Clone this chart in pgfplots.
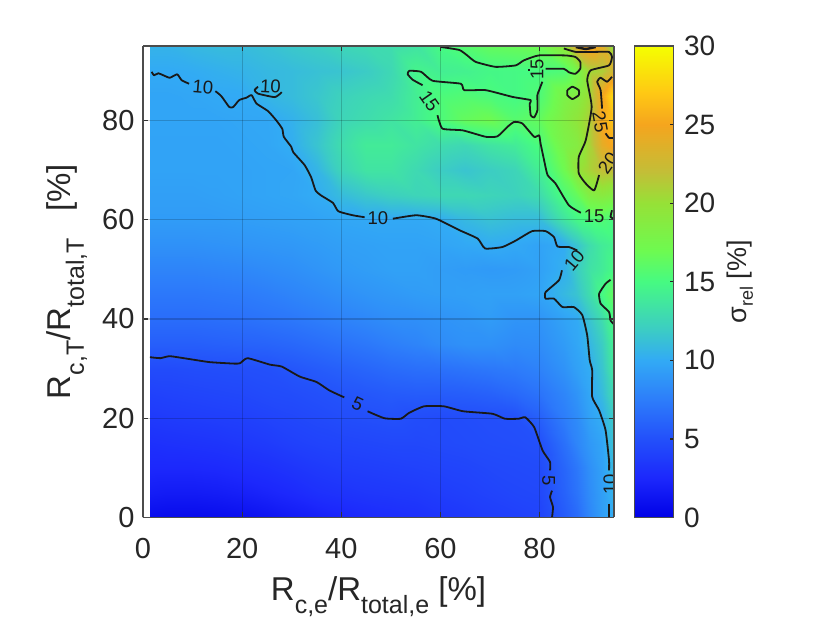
\documentclass[border=0pt]{standalone}
\usepackage{fontspec}
\setmainfont{Liberation Sans}
\usepackage{pgfplots}
\pgfplotsset{compat=1.18}
\definecolor{txt}{gray}{0.15}
\newcommand{\lab}{\fontsize{33}{33}\selectfont}
\newcommand{\labsub}[1]{\raisebox{-13pt}{\fontsize{25}{25}\selectfont #1}}
\newcommand{\clab}[4]{\node[rotate=#4,font=\fontsize{18.5}{18.5}\selectfont,text=black!90,inner sep=0pt] at (axis cs:#1,#2,0) {#3};}
\pgfplotsset{contour/.style={black!90,line width=1.8pt,no marks,line join=round,smooth,tension=0.3}}
\begin{document}
\begin{tikzpicture}
\begin{axis}[
    at={(143pt,105.5pt)},anchor=south west,
    scale only axis,width=471pt,height=471.5pt,
    view={0}{90},
    xmin=0,xmax=95,ymin=0,ymax=95,
    xtick={0,20,40,60,80},ytick={0,20,40,60,80},ztick=\empty,
    tick align=inside,major tick length=5pt,
    xtick pos=both,ytick pos=both,
    xticklabel pos=bottom,yticklabel pos=left,
    axis on top,
    grid=major,grid style={black,opacity=0.18,line width=1.2pt},
    axis line style={black!70,line width=1.2pt},
    tick style={black!80,line width=1.2pt},
    /pgf/number format/assume math mode=true,
    tick label style={font=\fontsize{29}{29}\selectfont,text=txt},
    xticklabel style={yshift=-17pt},
    yticklabel style={xshift=-5pt},
    every axis x label/.style={at={(axis description cs:0.5,-0.175)},anchor=base},
    every axis y label/.style={at={(axis description cs:-0.153,0.5)},rotate=90,anchor=base},
    xlabel={\lab R\labsub{c,e}/R\labsub{total,e} [\%]},
    ylabel={\lab R\labsub{c,T}/R\labsub{total,T}\hspace{17pt} [\%]},
    label style={text=txt},
    colormap={sr}{
        rgb255(0)=(0,0,230) rgb255(25)=(28,40,252) rgb255(50)=(35,80,250)
        rgb255(75)=(45,125,250) rgb255(100)=(50,170,245) rgb255(120)=(60,205,195)
        rgb255(150)=(70,250,130) rgb255(170)=(110,250,80) rgb255(200)=(150,225,55)
        rgb255(220)=(195,190,55) rgb255(250)=(245,165,30) rgb255(270)=(255,200,20)
        rgb255(300)=(245,255,0)},
    point meta min=0,point meta max=30,
    colorbar,
    colorbar/width=39pt,
    colorbar style={
        at={(parent axis.north east)},anchor=north west,xshift=12pt,
        ytick={0,5,10,15,20,25,30},
        ytick pos=right,yticklabel pos=right,
        tick align=inside,major tick length=4pt,
        axis line style={black!70,line width=1.2pt},
        ytick style={black!85,line width=1.2pt},
        /pgf/number format/assume math mode=true,
        yticklabel style={font=\fontsize{28}{28}\selectfont,text=txt,xshift=7pt},
        every axis y label/.style={at={(axis description cs:2.88,0.5)},rotate=90,anchor=base},
        ylabel={\fontsize{27}{27}\selectfont σ\raisebox{-6pt}{\fontsize{18}{18}\selectfont rel} [\%]},
        ylabel style={text=txt},
    },
]
\addplot3[surf,shader=interp,mesh/rows=20,mesh/cols=22,forget plot] coordinates {
(1.5,0,0.8) (5,0,0.7) (10,0,0.7) (15,0,0.8) (20,0,1.0) (25,0,1.3) (30,0,1.7) (35,0,2.0) (40,0,2.3) (45,0,2.6) (50,0,2.8) (55,0,3.0) (60,0,3.3) (65,0,3.5) (70,0,3.8) (75,0,4.0) (80,0,4.2) (85,0,5.6) (87.5,0,6.5) (90,0,8.0) (92.5,0,9.3) (95,0,10.3)

(1.5,5,1.8) (5,5,1.7) (10,5,1.7) (15,5,1.8) (20,5,2.0) (25,5,2.3) (30,5,2.6) (35,5,3.0) (40,5,3.2) (45,5,3.4) (50,5,3.5) (55,5,3.6) (60,5,3.8) (65,5,4.0) (70,5,4.2) (75,5,4.4) (80,5,4.5) (85,5,6.0) (87.5,5,7.0) (90,5,8.3) (92.5,5,9.4) (95,5,10.6)

(1.5,10,2.5) (5,10,2.5) (10,10,2.5) (15,10,2.6) (20,10,2.8) (25,10,3.0) (30,10,3.3) (35,10,3.6) (40,10,3.8) (45,10,3.9) (50,10,4.0) (55,10,4.1) (60,10,4.2) (65,10,4.3) (70,10,4.5) (75,10,4.6) (80,10,4.7) (85,10,6.2) (87.5,10,7.2) (90,10,8.5) (92.5,10,9.5) (95,10,11.0)

(1.5,15,3.0) (5,15,3.1) (10,15,3.2) (15,15,3.3) (20,15,3.5) (25,15,3.7) (30,15,4.0) (35,15,4.2) (40,15,4.3) (45,15,4.4) (50,15,4.5) (55,15,4.5) (60,15,4.6) (65,15,4.7) (70,15,4.8) (75,15,4.85) (80,15,5.0) (85,15,6.8) (87.5,15,8.0) (90,15,9.0) (92.5,15,9.7) (95,15,11.5)

(1.5,20,3.6) (5,20,3.7) (10,20,3.8) (15,20,3.9) (20,20,4.0) (25,20,4.2) (30,20,4.4) (35,20,4.6) (40,20,4.8) (45,20,4.9) (50,20,5.0) (55,20,4.8) (60,20,4.7) (65,20,4.8) (70,20,4.9) (75,20,5.0) (80,20,5.9) (85,20,7.5) (87.5,20,8.3) (90,20,9.5) (92.5,20,10.2) (95,20,12.0)

(1.5,25,4.1) (5,25,4.2) (10,25,4.3) (15,25,4.4) (20,25,4.5) (25,25,4.7) (30,25,4.8) (35,25,5.0) (40,25,5.2) (45,25,5.4) (50,25,5.6) (55,25,5.7) (60,25,5.7) (65,25,5.8) (70,25,6.0) (75,25,6.4) (80,25,7.0) (85,25,8.0) (87.5,25,8.8) (90,25,9.8) (92.5,25,11.0) (95,25,13.0)

(1.5,30,4.7) (5,30,4.7) (10,30,4.8) (15,30,4.85) (20,30,4.9) (25,30,5.0) (30,30,5.3) (35,30,5.6) (40,30,5.9) (45,30,6.2) (50,30,6.5) (55,30,6.7) (60,30,6.8) (65,30,7.0) (70,30,7.2) (75,30,7.4) (80,30,7.8) (85,30,8.7) (87.5,30,9.5) (90,30,10.1) (92.5,30,11.5) (95,30,14.0)

(1.5,35,5.8) (5,35,5.8) (10,35,5.8) (15,35,5.9) (20,35,6.0) (25,35,6.1) (30,35,6.3) (35,35,6.6) (40,35,6.9) (45,35,7.2) (50,35,7.6) (55,35,7.9) (60,35,8.3) (65,35,8.6) (70,35,8.6) (75,35,8.3) (80,35,8.4) (85,35,9.2) (87.5,35,9.8) (90,35,10.7) (92.5,35,12.0) (95,35,14.5)

(1.5,40,6.6) (5,40,6.6) (10,40,6.6) (15,40,6.7) (20,40,6.8) (25,40,7.0) (30,40,7.2) (35,40,7.5) (40,40,7.8) (45,40,8.1) (50,40,8.4) (55,40,8.5) (60,40,8.7) (65,40,8.9) (70,40,9.2) (75,40,8.8) (80,40,8.8) (85,40,9.6) (87.5,40,10.0) (90,40,11.5) (92.5,40,13.0) (95,40,15.2)

(1.5,45,7.2) (5,45,7.2) (10,45,7.2) (15,45,7.3) (20,45,7.4) (25,45,7.6) (30,45,7.9) (35,45,8.2) (40,45,8.5) (45,45,8.8) (50,45,9.0) (55,45,9.2) (60,45,9.3) (65,45,9.4) (70,45,9.5) (75,45,9.5) (80,45,9.7) (85,45,10.8) (87.5,45,11.5) (90,45,13.0) (92.5,45,15.0) (95,45,16.5)

(1.5,50,7.9) (5,50,7.9) (10,50,7.9) (15,50,8.0) (20,50,8.1) (25,50,8.3) (30,50,8.5) (35,50,8.8) (40,50,9.1) (45,50,9.3) (50,50,9.5) (55,50,9.5) (60,50,9.3) (65,50,9.2) (70,50,9.1) (75,50,9.2) (80,50,9.5) (85,50,10.3) (87.5,50,12.0) (90,50,13.3) (92.5,50,14.0) (95,50,15.0)

(1.5,55,8.6) (5,55,8.6) (10,55,8.6) (15,55,8.7) (20,55,8.8) (25,55,8.9) (30,55,9.0) (35,55,9.2) (40,55,9.4) (45,55,9.5) (50,55,9.6) (55,55,9.6) (60,55,9.7) (65,55,9.9) (70,55,10.1) (75,55,9.9) (80,55,9.6) (85,55,10.1) (87.5,55,11.5) (90,55,13.0) (92.5,55,14.0) (95,55,14.5)

(1.5,60,9.2) (5,60,9.2) (10,60,9.2) (15,60,9.2) (20,60,9.3) (25,60,9.4) (30,60,9.5) (35,60,9.6) (40,60,9.8) (45,60,9.9) (50,60,9.9) (55,60,9.9) (60,60,10.1) (65,60,10.8) (70,60,11.3) (75,60,11.0) (80,60,11.0) (85,60,13.5) (87.5,60,14.7) (90,60,15.2) (92.5,60,15.5) (95,60,15.0)

(1.5,65,9.4) (5,65,9.4) (10,65,9.4) (15,65,9.5) (20,65,9.6) (25,65,9.7) (30,65,9.8) (35,65,10.1) (40,65,11.0) (45,65,11.7) (50,65,12.2) (55,65,12.5) (60,65,12.7) (65,65,12.7) (70,65,12.5) (75,65,12.3) (80,65,13.0) (85,65,15.4) (87.5,65,16.5) (90,65,18.5) (92.5,65,19.0) (95,65,18.5)

(1.5,70,9.6) (5,70,9.6) (10,70,9.6) (15,70,9.6) (20,70,9.6) (25,70,9.7) (30,70,9.75) (35,70,10.6) (40,70,12.5) (45,70,13.5) (50,70,13.5) (55,70,12.8) (60,70,12.0) (65,70,11.5) (70,70,12.0) (75,70,12.5) (80,70,14.3) (85,70,17.0) (87.5,70,19.7) (90,70,20.8) (92.5,70,22.0) (95,70,22.0)

(1.5,75,9.6) (5,75,9.6) (10,75,9.6) (15,75,9.6) (20,75,9.7) (25,75,9.8) (30,75,10.2) (35,75,11.5) (40,75,13.0) (45,75,14.0) (50,75,14.0) (55,75,13.5) (60,75,13.0) (65,75,12.7) (70,75,13.5) (75,75,14.0) (80,75,15.3) (85,75,18.0) (87.5,75,18.7) (90,75,20.7) (92.5,75,24.0) (95,75,25.5)

(1.5,80,9.7) (5,80,9.7) (10,80,9.7) (15,80,9.7) (20,80,9.8) (25,80,9.85) (30,80,10.4) (35,80,11.2) (40,80,12.5) (45,80,13.0) (50,80,13.5) (55,80,14.2) (60,80,15.3) (65,80,16.5) (70,80,17.0) (75,80,15.8) (80,80,16.5) (85,80,18.5) (87.5,80,19.5) (90,80,21.0) (92.5,80,25.3) (95,80,27.0)

(1.5,85,9.7) (5,85,9.7) (10,85,9.8) (15,85,9.95) (20,85,10.0) (25,85,10.6) (30,85,11.0) (35,85,11.6) (40,85,12.3) (45,85,12.7) (50,85,13.0) (55,85,14.2) (60,85,15.3) (65,85,15.6) (70,85,15.3) (75,85,14.9) (80,85,15.5) (85,85,18.0) (87.5,85,18.7) (90,85,20.2) (92.5,85,25.0) (95,85,28.5)

(1.5,90,10.0) (5,90,10.0) (10,90,10.1) (15,90,10.3) (20,90,10.5) (25,90,10.8) (30,90,11.0) (35,90,11.3) (40,90,11.5) (45,90,11.9) (50,90,12.7) (55,90,14.6) (60,90,14.2) (65,90,14.4) (70,90,14.8) (75,90,14.9) (80,90,15.1) (85,90,15.5) (87.5,90,17.5) (90,90,20.5) (92.5,90,21.0) (95,90,23.0)

(1.5,95,10.5) (5,95,10.5) (10,95,10.8) (15,95,11.0) (20,95,11.0) (25,95,11.3) (30,95,11.7) (35,95,12.0) (40,95,12.5) (45,95,12.8) (50,95,13.0) (55,95,13.5) (60,95,15.0) (65,95,15.8) (70,95,16.5) (75,95,16.7) (80,95,17.0) (85,95,19.5) (87.5,95,24.0) (90,95,25.5) (92.5,95,24.0) (95,95,19.0)
};
% level 5
\addplot[contour] coordinates {(1.4,32.3) (3.5,32.1) (5.4,32.5) (9.5,31.9) (13.5,31.3) (18.5,31) (19.6,31.1) (21.1,32.1) (25.6,30.8) (28,30.4) (31.6,28.4) (35,27.3) (37.6,25.6) (40.6,24.2)};
\addplot[contour] coordinates {(45.3,21.4) (48.7,20) (52,19.9) (53.7,21.1) (56.7,22.4) (60.7,22.4) (64.6,21.4) (70.5,20.9) (73,19.9) (75.8,19.9) (77.1,20.2) (78.9,18.2) (80.6,13.5) (82.1,11.2) (82.1,9.5)};
\addplot[contour] coordinates {(82.5,5.4) (82.1,4.1) (82.7,2.1) (82.5,0)};
% level 10
\addplot[contour] coordinates {(1.75,89.8) (2.2,89.1) (3.1,89.5) (4.1,89.1) (5.4,88.6) (6.9,89.3) (7.8,88.1) (9.3,87.4)};
\addplot[contour] coordinates {(14.6,85.9) (15.8,84.9) (17.4,82.7) (18.2,82.7) (19.4,84.1) (20.9,84.6) (21.9,85.1) (22.9,83.4) (25.2,81.9) (26.9,80) (28.1,78.3) (28.4,76.7) (29.9,74.7) (30.3,73.6) (32.6,71) (33.9,68.6) (34.8,65.9) (35.9,64.9) (38.3,63.4) (39.4,61.7) (42.3,60.9) (44.7,60.5)};
\addplot[contour] coordinates {(23.2,86.8) (22.5,86.1) (23.2,85.4) (26.6,84.7) (28,85.7)};
\addplot[contour] coordinates {(50.4,60.2) (55.1,60.9) (59.1,60.2) (63.8,57.9) (67.5,56.2) (69,54.2) (72.5,54.5) (75.2,55.8) (78.5,57.7) (81.2,57.7) (82.9,56.5) (83.6,54.6) (85.9,54.5) (87.6,53.8)};
\addplot[contour] coordinates {(84.5,49.8) (83.9,47.8) (81.2,45.4) (81.2,44.1) (82.9,44.1) (84.6,42.4) (86.9,42.4) (88.6,40.8) (89.6,36.7) (90.1,31.7) (90.6,29.7) (90.6,24.3) (92,21.6) (93.3,17.6) (94,11.5) (94,9.5)};
\addplot[contour] coordinates {(94,2.8) (94,0)};
% level 15
\addplot[contour] coordinates {(60.1,94.8) (63.8,94.2) (65.4,93.1) (67.1,91.8) (71.1,90.8) (75.2,91.1) (76.8,92.1) (79.8,93.1) (85.2,93.1) (87.2,92.8) (88.2,91.8) (88.2,90.4) (87.2,89.4) (85.9,89.7) (84.9,90.4) (81.2,90.4)};
\addplot[contour] coordinates {(78,90.2) (77.7,90.2)};
\addplot[contour] coordinates {(80.55,87.8) (79.9,86.1) (79.55,85.1) (79.55,82.05) (78.9,80.6) (78.2,81.05) (78,83.4) (78.2,84.1) (74.5,84.75) (69.15,86.1) (64.8,86.1) (64.1,87.4) (58.4,88) (56.1,89.8) (53.7,90) (53.4,89.3) (54.4,88.2) (56.4,87.1)};
\addplot[contour] coordinates {(59.4,81.05) (60.4,78.35) (64.5,78) (69.15,76.7) (71.5,76.8) (73.5,78.7) (74.85,79.7) (76.5,79.4) (78.9,76.7) (79.9,77) (80.2,75.3) (80.9,72) (81.6,69) (83.2,67.3) (85.9,62.9) (88.3,61.4)};
\addplot[contour] coordinates {(94.6,61.9) (94.3,60.55) (95,60.2)};
\addplot[contour] coordinates {(94.3,47.9) (93.3,47.1) (92,45.1) (92.3,43.1) (94,41.4) (94.3,39.7) (94.9,39)};
\addplot[contour] coordinates {(85.6,86.1) (86.6,86.8) (87.9,86.1) (87.9,85.1) (86.6,84.3) (85.6,85.1) (85.6,86.1)};
% level 20
\addplot[contour] coordinates {(84.9,94.5) (87.3,93.8) (90.6,93.8) (94,93.8) (94.6,92.8) (94,91.1) (90.3,90.1) (89.6,88.1) (90.5,82.7) (89.3,76) (87.9,72.65) (87.9,69.3) (89.3,67.3) (91,65.9) (92,69)};
% level 25
\addplot[contour] coordinates {(94.6,88.8) (93.6,87.8) (92.3,88.6) (91.6,87.8) (92.3,86.1) (92.6,82.4)};
\addplot[contour] coordinates {(93.3,77.4) (94,76.5) (95,76.5)};
\addplot[contour,line width=2.4pt] coordinates {(87.3,94.8) (89.3,94.4) (91.3,94.8)};
% labels
\clab{12.1}{86.7}{10}{-5}
\clab{25.7}{86.9}{10}{-3}
\clab{47.4}{60.3}{10}{0}
\clab{87}{51.8}{10}{50}
\clab{94.2}{6.7}{10}{90}
\clab{43.3}{22.8}{5}{-25}
\clab{81.8}{7.4}{5}{-90}
\clab{79.5}{90.3}{15}{90}
\clab{57.75}{83.9}{15}{-55}
\clab{91}{60.7}{15}{0}
\clab{93.8}{71.4}{20}{55}
\clab{92.2}{79.7}{25}{-80}
\end{axis}
\pgfresetboundingbox
\path (0,0) rectangle (830pt,623pt);
\end{tikzpicture}
\end{document}
